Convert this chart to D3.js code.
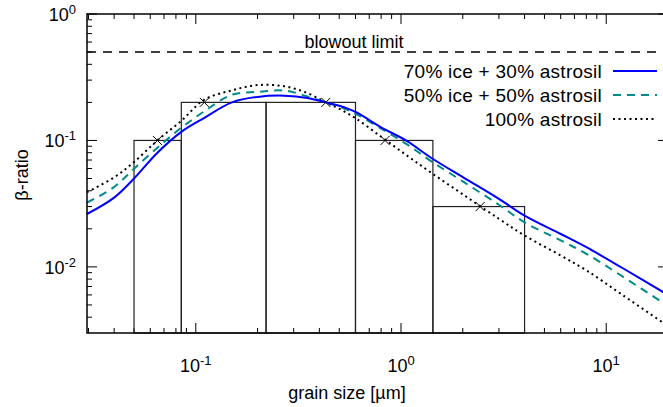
<!DOCTYPE html>
<html>
<head>
<meta charset="UTF-8">
<script src="https://d3js.org/d3.v7.min.js"></script>
<style>
  body { margin: 0; background: #fff; }
  svg { font-family: "Liberation Sans", Arial, Helvetica, sans-serif; }
  .lbl { font-size: 18px; fill: #000; }
  .leg { font-size: 19px; letter-spacing: 0.25px; fill: #000; }
</style>
</head>
<body>
<svg width="663" height="407"></svg>
<script>
// grain sizes (µm) where the curves were read
var grain = [0.0295, 0.04, 0.05, 0.065, 0.085, 0.11, 0.15, 0.2, 0.27, 0.35, 0.43, 0.5, 0.6, 0.8, 1.07, 1.4, 2, 3, 4, 6, 8, 12, 20];
var ice70 = [0.0262, 0.0353, 0.050, 0.080, 0.117, 0.151, 0.200, 0.221, 0.226, 0.217, 0.200, 0.188, 0.168, 0.127, 0.0988, 0.073, 0.0513, 0.0345, 0.0254, 0.0182, 0.0143, 0.0098, 0.0060];
var ice50 = [0.0322, 0.0428, 0.0598, 0.0875, 0.126, 0.170, 0.230, 0.242, 0.248, 0.223, 0.200, 0.185, 0.163, 0.124, 0.093, 0.0687, 0.0474, 0.0310, 0.0225, 0.0162, 0.0127, 0.0084, 0.0049];
var sil100 = [0.039, 0.051, 0.0675, 0.100, 0.143, 0.210, 0.249, 0.274, 0.268, 0.237, 0.200, 0.178, 0.150, 0.107, 0.0759, 0.0557, 0.0375, 0.024, 0.0177, 0.0123, 0.0094, 0.0060, 0.0034];

// histogram bins
var binEdges = [0.05, 0.085, 0.22, 0.6, 1.43, 4.0];
var binHeights = [0.1, 0.2, 0.2, 0.1, 0.03];

// crosses
var markX = [0.065, 0.11, 0.43, 0.836, 2.43];
var markY = [0.1, 0.2, 0.2, 0.1, 0.03];

var blowout = 0.5;

var legendNames = ["70% ice + 30% astrosil", "50% ice + 50% astrosil", "100% astrosil"];
var xDecades = [-1, 0, 1];
var yDecades = [-2, -1, 0];

var svg = d3.select("svg");
var L = 87, R = 668, T = 14, B = 333;

var x = d3.scaleLog().domain([0.0295, 20]).range([L, R]);
var y = d3.scaleLog().domain([0.003, 1]).range([B, T]);

svg.append("defs").append("clipPath").attr("id", "clip")
  .append("rect").attr("x", L).attr("y", T).attr("width", R - L).attr("height", B - T);

// minor/major tick values
function minors(dom) {
  var out = [];
  for (var e = -3; e <= 1; e++)
    for (var m = 2; m <= 9; m++) {
      var v = m * Math.pow(10, e);
      if (v > dom[0] && v < dom[1]) out.push(v);
    }
  return out;
}
var xMaj = xDecades.map(function(d) { return Math.pow(10, d); });
var yMaj = yDecades.map(function(d) { return Math.pow(10, d); });

var ticks = svg.append("g").attr("stroke", "#000").attr("stroke-width", 1);
function tickLines(vals, len, axis) {
  vals.forEach(function(v) {
    if (axis === "x") {
      var px = x(v);
      ticks.append("line").attr("x1", px).attr("x2", px).attr("y1", B).attr("y2", B - len);
      ticks.append("line").attr("x1", px).attr("x2", px).attr("y1", T).attr("y2", T + len);
    } else {
      var py = y(v);
      ticks.append("line").attr("x1", L).attr("x2", L + len).attr("y1", py).attr("y2", py);
      ticks.append("line").attr("x1", R).attr("x2", R - len).attr("y1", py).attr("y2", py);
    }
  });
}
tickLines(minors(x.domain()), 5, "x");
tickLines(xMaj, 10, "x");
tickLines(minors(y.domain()), 5, "y");
tickLines(yMaj, 10, "y");

// histogram
var hist = svg.append("g").attr("fill", "none").attr("stroke", "#222").attr("stroke-width", 1.2);
binHeights.forEach(function(h, i) {
  hist.append("rect")
    .attr("x", x(binEdges[i]))
    .attr("y", y(h))
    .attr("width", x(binEdges[i + 1]) - x(binEdges[i]))
    .attr("height", B - y(h));
});

// blowout limit
svg.append("line")
  .attr("x1", L).attr("x2", R).attr("y1", y(blowout)).attr("y2", y(blowout))
  .attr("stroke", "#000").attr("stroke-width", 1.5).attr("stroke-dasharray", "9,7");
svg.append("text").attr("class", "lbl")
  .attr("x", 354).attr("y", 48).attr("text-anchor", "middle")
  .text("blowout limit");

// curves
var series = [
  { vals: ice70, color: "#0000ff", dash: null },
  { vals: ice50, color: "#008b8b", dash: "8,6" },
  { vals: sil100, color: "#000000", dash: "2,3.5" }
];
var line = d3.line()
  .x(function(d) { return x(d[0]); })
  .y(function(d) { return y(d[1]); })
  .curve(d3.curveCatmullRom.alpha(0.5));

var curves = svg.append("g").attr("clip-path", "url(#clip)");
series.slice().reverse().forEach(function(s) {
  curves.append("path")
    .datum(grain.map(function(g, i) { return [g, s.vals[i]]; }))
    .attr("d", line)
    .attr("fill", "none")
    .attr("stroke", s.color)
    .attr("stroke-width", 2)
    .attr("stroke-dasharray", s.dash);
});

// crosses
var cross = svg.append("g").attr("stroke", "#000").attr("stroke-width", 1);
markX.forEach(function(mx, i) {
  var px = x(mx), py = y(markY[i]), r = 4.5;
  cross.append("line").attr("x1", px - r).attr("x2", px + r).attr("y1", py - r).attr("y2", py + r);
  cross.append("line").attr("x1", px - r).attr("x2", px + r).attr("y1", py + r).attr("y2", py - r);
});

// frame
svg.append("rect").attr("x", L).attr("y", T).attr("width", R - L).attr("height", B - T)
  .attr("fill", "none").attr("stroke", "#000").attr("stroke-width", 1.5);

// legend
var legY = [71, 95, 119];
series.forEach(function(s, i) {
  svg.append("text").attr("class", "leg")
    .attr("x", 602).attr("y", legY[i] + 7).attr("text-anchor", "end")
    .text(legendNames[i]);
  svg.append("line")
    .attr("x1", 613).attr("x2", 657).attr("y1", legY[i]).attr("y2", legY[i])
    .attr("stroke", s.color).attr("stroke-width", 2).attr("stroke-dasharray", s.dash);
});

// tick labels
xDecades.forEach(function(e) {
  var t = svg.append("text").attr("class", "lbl")
    .attr("x", x(Math.pow(10, e))).attr("y", 372).attr("text-anchor", "middle");
  t.append("tspan").text("10");
  t.append("tspan").attr("dy", -7).attr("font-size", "13px").text(e);
});
yDecades.forEach(function(e) {
  var t = svg.append("text").attr("class", "lbl")
    .attr("x", 76).attr("y", y(Math.pow(10, e)) + 7).attr("text-anchor", "end");
  t.append("tspan").text("10");
  t.append("tspan").attr("dy", -7).attr("font-size", "13px").text(e);
});

// axis titles
svg.append("text").attr("class", "lbl")
  .attr("x", 347).attr("y", 399).attr("text-anchor", "middle")
  .text("grain size [µm]");
svg.append("text").attr("class", "lbl")
  .attr("transform", "translate(28,175) rotate(-90)")
  .attr("text-anchor", "middle")
  .text("β-ratio");
</script>
</body>
</html>
